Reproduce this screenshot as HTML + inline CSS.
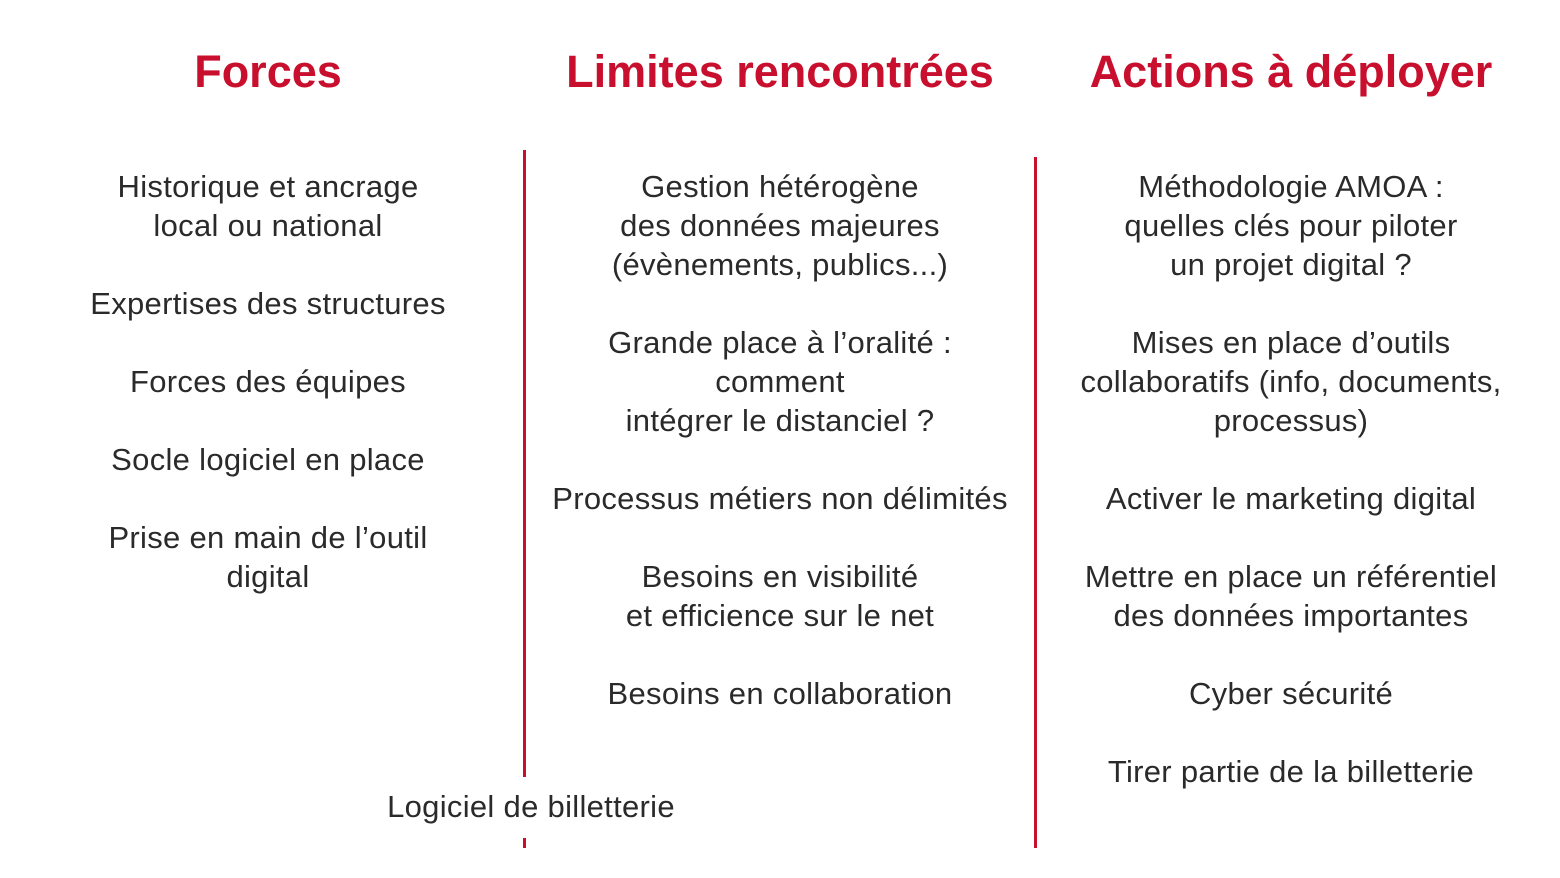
<!DOCTYPE html>
<html><head><meta charset="utf-8"><style>
body{margin:0;width:1560px;height:878px;background:#fff;position:relative;overflow:hidden;font-family:"Liberation Sans",sans-serif}
.t{position:absolute;font-weight:bold;color:#c8102e;font-size:45px;line-height:50px;text-align:center;width:600px;margin-left:-300px;top:47px}
.l{position:absolute;width:700px;margin-left:-350px;text-align:center;font-size:31px;letter-spacing:0.3px;line-height:39px;color:#2a2a2a;white-space:nowrap}
.v{position:absolute;width:3px;background:#c8102e}
</style></head><body>
<div class="t" style="left:268px">Forces</div>
<div class="t" style="left:780px">Limites rencontrées</div>
<div class="t" style="left:1291px">Actions à déployer</div>

<div class="v" style="left:523px;top:150px;height:627px"></div>
<div class="v" style="left:523px;top:838px;height:10px"></div>
<div class="v" style="left:1034px;top:157px;height:691px"></div>

<div class="l" style="left:268px;top:167px">Historique et ancrage<br>local ou national</div>
<div class="l" style="left:268px;top:284px">Expertises des structures</div>
<div class="l" style="left:268px;top:362px">Forces des équipes</div>
<div class="l" style="left:268px;top:440px">Socle logiciel en place</div>
<div class="l" style="left:268px;top:518px">Prise en main de l’outil<br>digital</div>
<div class="l" style="left:531px;top:787px">Logiciel de billetterie</div>

<div class="l" style="left:780px;top:167px">Gestion hétérogène<br>des données majeures<br>(évènements, publics...)</div>
<div class="l" style="left:780px;top:323px">Grande place à l’oralité :<br>comment<br>intégrer le distanciel ?</div>
<div class="l" style="left:780px;top:479px">Processus métiers non délimités</div>
<div class="l" style="left:780px;top:557px">Besoins en visibilité<br>et efficience sur le net</div>
<div class="l" style="left:780px;top:674px">Besoins en collaboration</div>

<div class="l" style="left:1291px;top:167px">Méthodologie AMOA :<br>quelles clés pour piloter<br>un projet digital ?</div>
<div class="l" style="left:1291px;top:323px">Mises en place d’outils<br>collaboratifs (info, documents,<br>processus)</div>
<div class="l" style="left:1291px;top:479px">Activer le marketing digital</div>
<div class="l" style="left:1291px;top:557px">Mettre en place un référentiel<br>des données importantes</div>
<div class="l" style="left:1291px;top:674px">Cyber sécurité</div>
<div class="l" style="left:1291px;top:752px">Tirer partie de la billetterie</div>
</body></html>
